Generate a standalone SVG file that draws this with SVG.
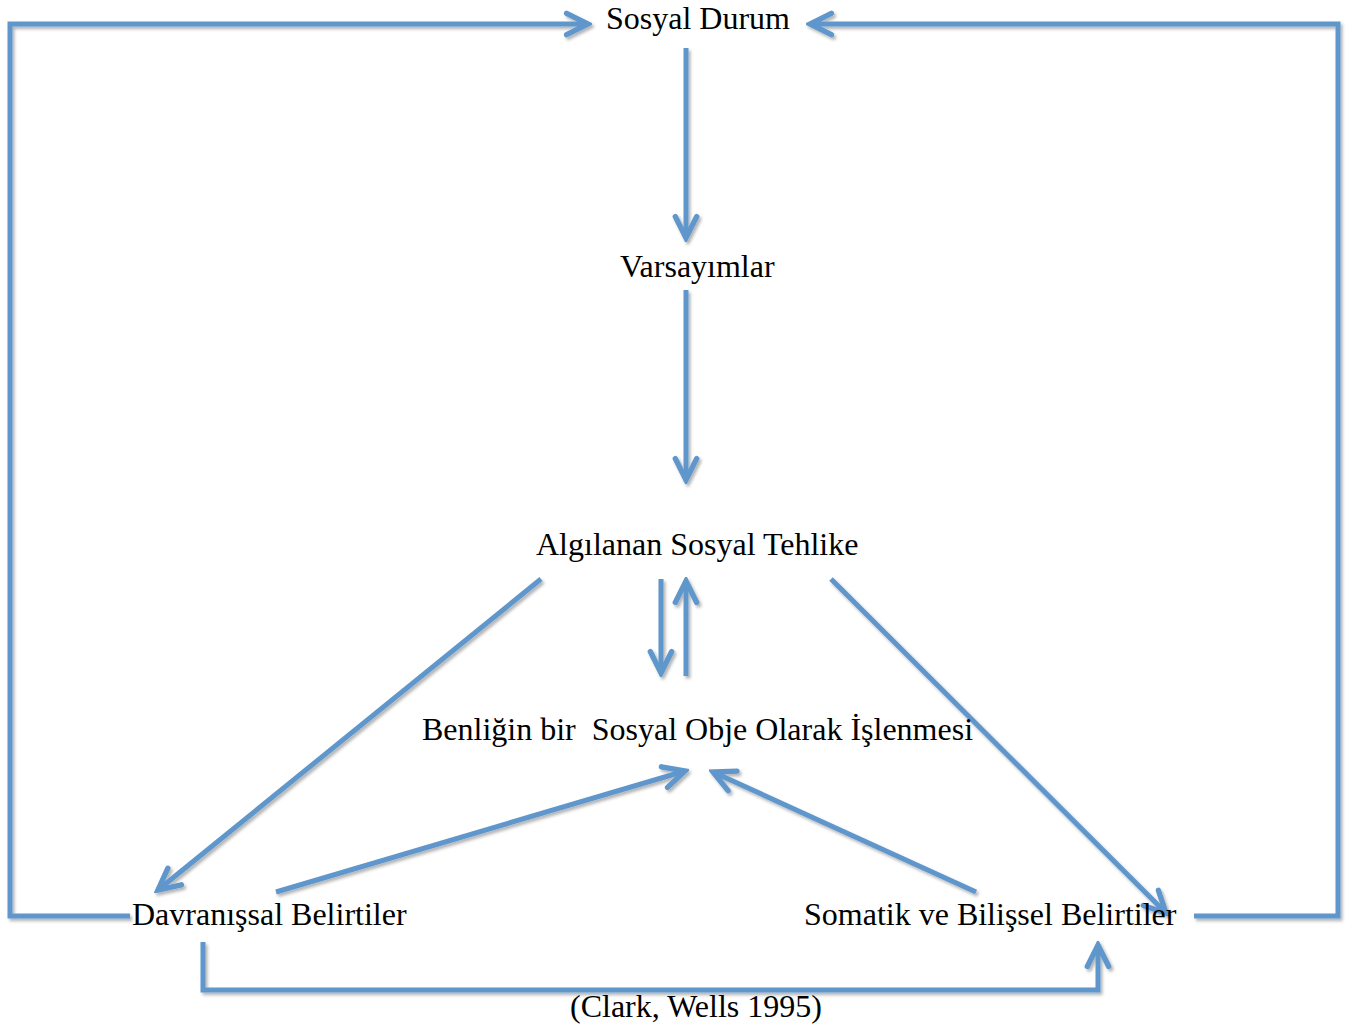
<svg xmlns="http://www.w3.org/2000/svg" width="1353" height="1028" viewBox="0 0 1353 1028">
<style>
.t{font-family:"Liberation Serif","Times New Roman",serif;font-size:32px;fill:#000}
.c{fill:none;stroke:#5F96CB;stroke-width:5;stroke-linejoin:miter}
</style>
<defs>
<filter id="sh" x="-10%" y="-10%" width="120%" height="120%">
<feDropShadow dx="2" dy="2.5" stdDeviation="1.5" flood-color="#000" flood-opacity="0.3"/>
</filter>
<marker id="ah" markerUnits="userSpaceOnUse" markerWidth="30" markerHeight="30" viewBox="-24 -14 28 28" refX="0" refY="0" orient="auto">
<path d="M-20,-10 L0,0 L-20,10" fill="none" stroke="#5F96CB" stroke-width="5" stroke-linecap="round" stroke-linejoin="miter"/>
</marker>
</defs>
<rect width="1353" height="1028" fill="#fff"/>
<g id="connectors" filter="url(#sh)">
<polyline class="c" points="130,916 10,916 10,24 588,24" marker-end="url(#ah)"/>
<polyline class="c" points="1194,916 1338,916 1338,24 810,24" marker-end="url(#ah)"/>
<line class="c" x1="686" y1="48" x2="686" y2="238" marker-end="url(#ah)"/>
<line class="c" x1="686" y1="290" x2="686" y2="480" marker-end="url(#ah)"/>
<line class="c" x1="661" y1="579" x2="661" y2="673" marker-end="url(#ah)"/>
<line class="c" x1="686" y1="676" x2="686" y2="581" marker-end="url(#ah)"/>
<line class="c" x1="541" y1="579" x2="158" y2="890" marker-end="url(#ah)"/>
<line class="c" x1="831" y1="579" x2="1166" y2="913" marker-end="url(#ah)"/>
<line class="c" x1="276" y1="892" x2="685" y2="771" marker-end="url(#ah)"/>
<line class="c" x1="976" y1="892" x2="713" y2="772" marker-end="url(#ah)"/>
<polyline class="c" points="203,942 203,990 1098,990 1098,945" marker-end="url(#ah)"/>
</g>
<g id="sosyal-durum"><text class="t" x="606" y="29">Sosyal Durum</text></g>
<g id="varsayimlar"><text class="t" x="620" y="277">Varsayımlar</text></g>
<g id="algilanan"><text class="t" x="536" y="555">Algılanan Sosyal Tehlike</text></g>
<g id="benligin"><text class="t" x="422" y="740" xml:space="preserve">Benliğin bir  Sosyal Obje Olarak İşlenmesi</text></g>
<g id="davranissal"><text class="t" x="132" y="925">Davranışsal Belirtiler</text></g>
<g id="somatik"><text class="t" x="804" y="925">Somatik ve Bilişsel Belirtiler</text></g>
<g id="kaynak"><text class="t" x="570" y="1017">(Clark, Wells 1995)</text></g>
</svg>
